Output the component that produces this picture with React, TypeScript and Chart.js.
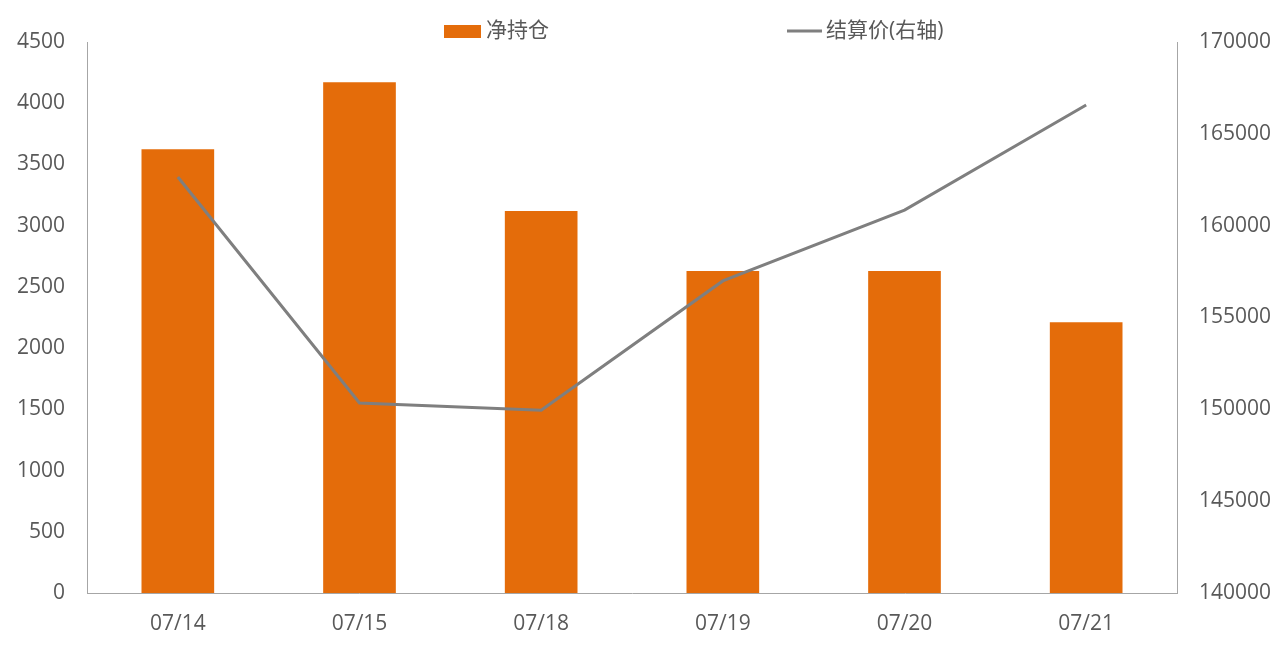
import React, { useEffect, useRef } from "react";
import { Chart, registerables } from "chart.js";

Chart.register(...registerables);

const dates = ["07/14", "07/15", "07/18", "07/19", "07/20", "07/21"];
const netPosition = [3625, 4172, 3120, 2630, 2630, 2212];
const settlePrice = [162650, 150350, 149950, 156990, 160850, 166570];

const barColor = "#E46C0A";
const lineColor = "#7F7F7F";
const textColor = "#595959";
const axisColor = "#A6A6A6";
const fontFamily = "'Open Sans', 'Noto Sans CJK SC', sans-serif";

const legendPlugin = {
  id: "customLegend",
  afterDraw(chart: Chart) {
    const { ctx } = chart;
    ctx.save();
    ctx.font = `21px ${fontFamily}`;
    ctx.textBaseline = "middle";
    // bar item
    ctx.fillStyle = barColor;
    ctx.fillRect(444, 25, 37, 13);
    ctx.fillStyle = textColor;
    ctx.fillText("净持仓", 486, 31);
    // line item
    ctx.strokeStyle = lineColor;
    ctx.lineWidth = 3;
    ctx.beginPath();
    ctx.moveTo(787, 31);
    ctx.lineTo(822, 31);
    ctx.stroke();
    ctx.fillText("结算价(右轴)", 826, 31);
    ctx.restore();
  },
};

const App: React.FC = () => {
  const canvasRef = useRef<HTMLCanvasElement | null>(null);
  const chartRef = useRef<Chart | null>(null);

  useEffect(() => {
    document.body.style.margin = "0";
    if (!canvasRef.current) return;
    const ctx = canvasRef.current.getContext("2d");
    if (!ctx) return;
    if (chartRef.current) chartRef.current.destroy();

    chartRef.current = new Chart(ctx, {
      type: "bar",
      data: {
        labels: dates,
        datasets: [
          {
            type: "line",
            label: "结算价(右轴)",
            data: settlePrice,
            borderColor: lineColor,
            borderWidth: 3,
            pointRadius: 0,
            fill: false,
            tension: 0,
            yAxisID: "y1",
            order: 0,
          },
          {
            type: "bar",
            label: "净持仓",
            data: netPosition,
            backgroundColor: barColor,
            barPercentage: 0.4,
            categoryPercentage: 1,
            yAxisID: "y",
            order: 1,
          },
        ],
      },
      options: {
        animation: false,
        responsive: true,
        maintainAspectRatio: false,
        layout: { padding: { top: 42, left: 0, right: 0, bottom: 0 } },
        plugins: {
          legend: { display: false },
          tooltip: { enabled: false },
        },
        scales: {
          x: {
            grid: { display: false, drawTicks: false },
            border: { display: true, color: axisColor, width: 1 },
            ticks: {
              color: textColor,
              font: { family: fontFamily, size: 21 },
              padding: 18,
            },
            afterFit: (scale: any) => {
              scale.height = 60;
            },
          },
          y: {
            position: "left",
            min: 0,
            max: 4500,
            grid: { display: false, drawTicks: false },
            border: { display: true, color: axisColor, width: 1 },
            ticks: {
              stepSize: 500,
              color: textColor,
              font: { family: fontFamily, size: 21 },
              padding: 22,
              callback: (v: any) => String(v),
            },
            afterFit: (scale: any) => {
              scale.width = 87;
            },
          },
          y1: {
            position: "right",
            min: 140000,
            max: 170000,
            grid: { display: false, drawTicks: false },
            border: { display: true, color: axisColor, width: 1 },
            ticks: {
              stepSize: 5000,
              color: textColor,
              font: { family: fontFamily, size: 21 },
              padding: 22,
              callback: (v: any) => String(v),
            },
            afterFit: (scale: any) => {
              scale.width = 103;
            },
          },
        },
      },
      plugins: [legendPlugin],
    });

    return () => {
      if (chartRef.current) {
        chartRef.current.destroy();
        chartRef.current = null;
      }
    };
  }, []);

  return (
    <div style={{ position: "relative", width: 1280, height: 653, background: "#fff" }}>
      <canvas ref={canvasRef}></canvas>
    </div>
  );
};

export default App;
